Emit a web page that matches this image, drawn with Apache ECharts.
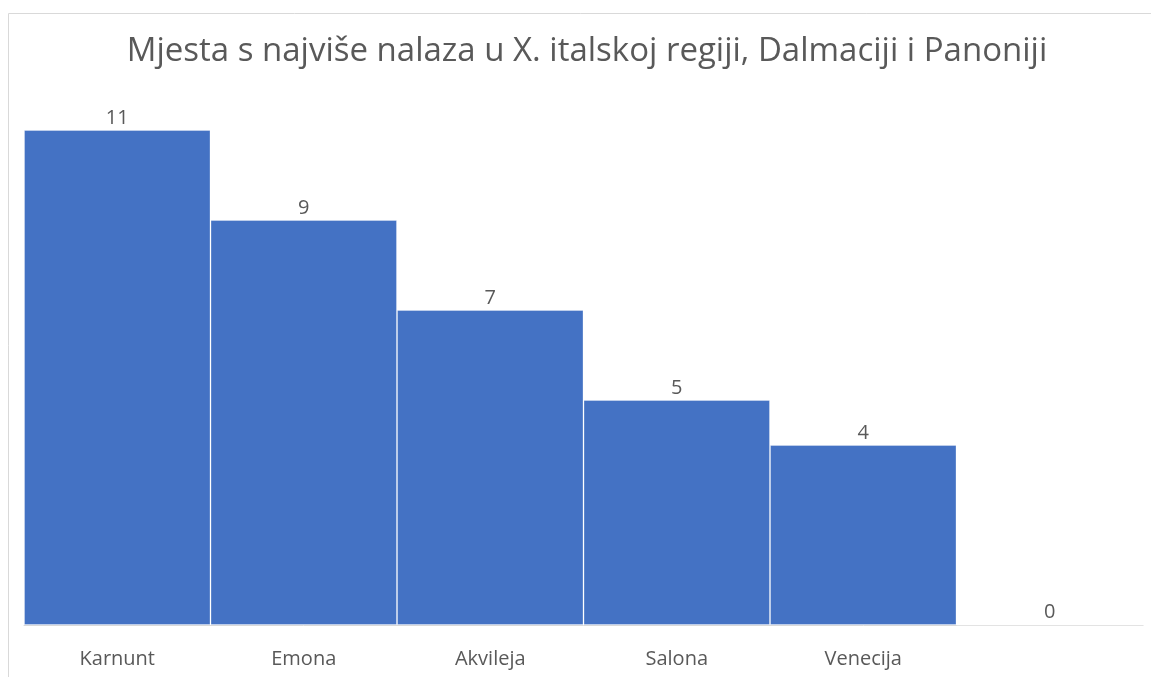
<!DOCTYPE html>
<html>
<head>
<meta charset="utf-8">
<script src="https://cdn.jsdelivr.net/npm/echarts@6/dist/echarts.min.js"></script>
<style>
    html, body { margin: 0; padding: 0; background: #fff; }
    #chart { width: 1151px; height: 677px; }
</style>
</head>
<body>
<div id="chart"></div>
<script>
const titleText = 'Mjesta s najviše nalaza u X. italskoj regiji, Dalmaciji i Panoniji';
const categories = ['Karnunt', 'Emona', 'Akvileja', 'Salona', 'Venecija', ''];
const counts = [11, 9, 7, 5, 4, 0];

const textColor = '#595959';
const fontFamily = '"Open Sans", sans-serif';

const chart = echarts.init(document.getElementById('chart'));
chart.setOption({
    animation: false,
    title: {
        text: titleText,
        left: 582,
        textAlign: 'center',
        top: 30,
        textStyle: { color: textColor, fontSize: 33, fontWeight: 'normal', fontFamily: fontFamily }
    },
    graphic: [{
        type: 'rect',
        shape: { x: 8.5, y: 13.5, width: 1160, height: 700 },
        style: { fill: 'none', stroke: '#d9d9d9', lineWidth: 1 },
        silent: true
    }],
    grid: { left: 24, right: 8, top: 85, bottom: 52 },
    xAxis: {
        type: 'category',
        data: categories,
        axisTick: { show: false },
        axisLine: { lineStyle: { color: '#d9d9d9', width: 1 } },
        axisLabel: { color: textColor, fontSize: 20, margin: 24, fontFamily: fontFamily }
    },
    yAxis: {
        type: 'value',
        min: 0,
        max: 12,
        show: false,
        splitLine: { show: false }
    },
    series: [{
        type: 'bar',
        data: counts,
        barCategoryGap: 0,
        itemStyle: { color: '#4472C4', borderColor: 'rgba(255,255,255,0.3)', borderWidth: 1 },
        label: {
            show: true,
            position: 'top',
            distance: 2,
            color: textColor,
            fontSize: 20,
            fontFamily: fontFamily
        }
    }]
});
</script>
</body>
</html>
